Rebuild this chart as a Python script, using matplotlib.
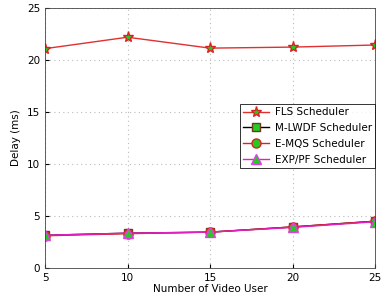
import matplotlib
matplotlib.use("Agg")
import matplotlib.pyplot as plt

users = [5, 10, 15, 20, 25]
fls = [21.1, 22.2, 21.15, 21.25, 21.45]
mlwdf = [3.15, 3.35, 3.45, 3.95, 4.5]
emqs = [3.1, 3.3, 3.45, 3.95, 4.5]
exppf = [3.15, 3.35, 3.45, 3.9, 4.45]

fig = plt.figure(figsize=(3.86, 2.96), dpi=100)
ax = fig.add_axes([0.1166, 0.0946, 0.855, 0.878])

ax.plot(users, fls, color='#e03030', lw=1, marker='*', ms=8, mfc='#22cc22', mec='#e02020', mew=1, label='FLS Scheduler')
ax.plot(users, mlwdf, color='black', lw=1, marker='s', ms=6, mfc='#22cc22', mec='#6b3a1a', mew=1, label='M-LWDF Scheduler')
ax.plot(users, emqs, color='#e02020', lw=1, marker='o', ms=6.5, mfc='#22cc22', mec='#e02020', mew=1, label='E-MQS Scheduler')
ax.plot(users, exppf, color='#e020c0', lw=1, marker='^', ms=6.5, mfc='#22cc22', mec='#e040e0', mew=1, label='EXP/PF Scheduler')

ax.set_xlim(5, 25)
ax.set_ylim(0, 25)
ax.set_xticks(users)
ax.set_yticks([0, 5, 10, 15, 20, 25])
ax.grid(True, linestyle=(0, (1, 3)), color='#bbbbbb', lw=0.8)
ax.tick_params(labelsize=7.5, direction='in', length=3)
ax.set_xlabel('Number of Video User', fontsize=7.5, labelpad=1)
ax.set_ylabel('Delay (ms)', fontsize=7.5, labelpad=4)
for s in ax.spines.values():
    s.set_linewidth(0.6)
    s.set_color('#444444')

leg = ax.legend(loc='upper left', bbox_to_anchor=(0.59, 0.632), fontsize=7.5, frameon=True,
                fancybox=False, edgecolor='black', borderpad=0.35, labelspacing=0.55,
                handlelength=2.5, handletextpad=0.5, borderaxespad=0)
leg.get_frame().set_linewidth(0.7)

fig.savefig('out.png', dpi=100)
